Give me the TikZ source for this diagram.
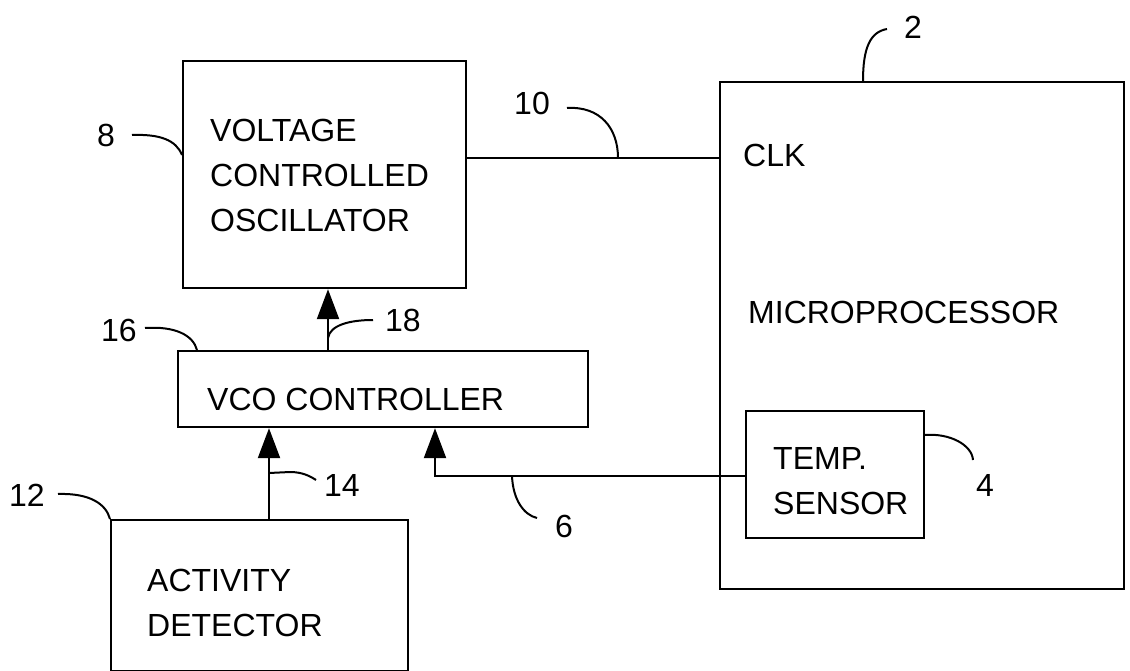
\documentclass[tikz,border=0pt]{standalone}
\usepackage{fontspec}
\setmainfont{Liberation Sans}
\usetikzlibrary{arrows.meta}
\begin{document}
\begin{tikzpicture}[x=1pt,y=-1pt,
  box/.style={draw,line width=2.2pt,inner sep=0pt,anchor=north west},
  txt/.style={inner sep=0pt,font=\fontsize{32}{45}\selectfont},
  mtxt/.style={txt,align=left,anchor=north west},
  num/.style={inner sep=0pt,font=\fontsize{32}{45}\selectfont},
  wire/.style={line width=2.2pt},
  arr/.style={line width=2.2pt,-{Triangle[length=30pt,width=22pt]}},
  lead/.style={line width=2pt}]
\useasboundingbox (0,0) rectangle (1130,671);
% boxes
\node[box,minimum width=283pt,minimum height=227pt] (vco) at (182,60) {};
\node[box,minimum width=404pt,minimum height=507pt] (micro) at (719,81) {};
\node[box,minimum width=410pt,minimum height=76pt] (ctrl) at (177,350) {};
\node[box,minimum width=178pt,minimum height=127pt] (temp) at (745,410) {};
\node[box,minimum width=297pt,minimum height=151pt] (act) at (110,519) {};
% texts
\node[mtxt] (vcot) at (210,119) {VOLTAGE\\CONTROLLED\\OSCILLATOR};
\node[txt,anchor=base west] (clk) at (743,167) {CLK};
\node[txt,anchor=base west] (mpt) at (748,323) {MICROPROCESSOR};
\node[txt,anchor=base west] (ctrlt) at (207,410) {VCO CONTROLLER};
\node[mtxt] (tempt) at (773,447) {TEMP.\\SENSOR};
\node[mtxt] (actt) at (147,569) {ACTIVITY\\DETECTOR};
% connectors
\coordinate (yclk) at (0,158);
\coordinate (x18) at (328,0);
\coordinate (x14) at (269,0);
\coordinate (x6) at (435,0);
\coordinate (y6) at (0,476);
\draw[wire] (vco.east |- yclk) -- (micro.west |- yclk);
\draw[arr] (ctrl.north -| x18) -- (vco.south -| x18);
\draw[arr] (act.north -| x14) -- (ctrl.south -| x14);
\draw[arr] (temp.west |- y6) -- (x6 |- y6) -- (ctrl.south -| x6);
% reference numerals
\node[num] (n2) at (913,27) {2};
\node[num] (n8) at (106,135) {8};
\node[num] (n10) at (532,103) {10};
\node[num] (n16) at (119,330) {16};
\node[num] (n18) at (403,320) {18};
\node[num] (n14) at (342,485) {14};
\node[num] (n12) at (27,495) {12};
\node[num] (n4) at (985,485) {4};
\node[num] (n6) at (564,526) {6};
% leaders
\coordinate (l2) at (887,29);
\coordinate (l8) at (132,135);
\coordinate (l10) at (567,108);
\coordinate (l16) at (145,328);
\coordinate (l18) at (373,320);
\coordinate (l14) at (316,480);
\coordinate (l12) at (58,494);
\coordinate (l4) at (973,460);
\coordinate (l6) at (537,518);
\draw[lead] (micro.north -| 863,0) .. controls (863,48) and (870,32) .. (l2);
\draw[lead] (vco.west |- 0,155) .. controls (176,140) and (160,134) .. (l8);
\draw[lead] (618,158) .. controls (618,128) and (600,106) .. (l10);
\draw[lead] (ctrl.north -| 197,0) .. controls (193,335) and (175,326) .. (l16);
\draw[lead] (328,338) .. controls (330,325) and (350,320) .. (l18);
\draw[lead] (269,473) -- (290,472) .. controls (302,472) and (310,476) .. (l14);
\draw[lead] (act.north -| 110,0) .. controls (106,504) and (90,493) .. (l12);
\draw[lead] (temp.east |- 0,435) .. controls (950,433) and (972,445) .. (l4);
\draw[lead] (512,476) .. controls (513,500) and (524,515) .. (l6);
\end{tikzpicture}
\end{document}
